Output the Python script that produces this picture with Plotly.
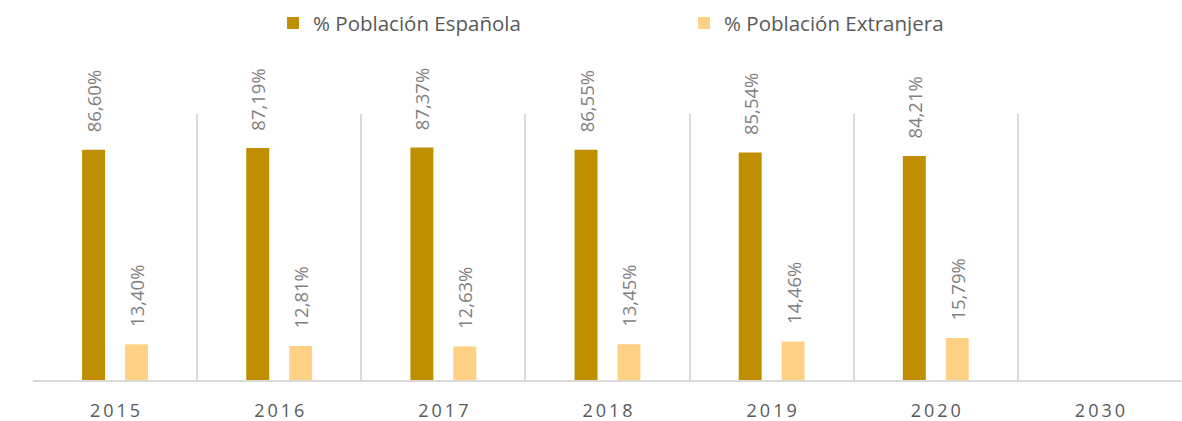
import plotly.graph_objects as go

years = ['2015', '2016', '2017', '2018', '2019', '2020', '2030']
year_labels = ['\u2009'.join(y) for y in years]
espanola = [86.60, 87.19, 87.37, 86.55, 85.54, 84.21, None]
extranjera = [13.40, 12.81, 12.63, 13.45, 14.46, 15.79, None]

COLOR_ES = '#BF8F00'
COLOR_EX = '#FFD185'
FONT = 'Open Sans'


def fmt(v):
    # leading no-break spaces keep the rotated label clear of the bar top
    return '' if v is None else '\u00a0\u00a0\u00a0' + f'{v:.2f}'.replace('.', ',') + '%'


fig = go.Figure()
for name, vals, col in (('% Población Española', espanola, COLOR_ES),
                        ('% Población Extranjera', extranjera, COLOR_EX)):
    fig.add_trace(go.Bar(
        x=years, y=vals, name=name,
        marker=dict(color=col, line=dict(width=0)),
        text=[fmt(v) for v in vals], textposition='outside', textangle=-90,
        constraintext='none', cliponaxis=False,
        outsidetextfont=dict(family=FONT, size=18.5, color='#7F7F7F'),
    ))

fig.update_layout(
    template='none',
    width=1182, height=421,
    margin=dict(l=33, r=0, t=114, b=41, autoexpand=False),
    paper_bgcolor='white', plot_bgcolor='white',
    barmode='group', bargap=0.477, bargroupgap=0.465,
    font=dict(family=FONT, color='#595959'),
    legend=dict(orientation='h', x=0.231, xref='container', xanchor='left',
                y=0.945, yref='container', yanchor='middle', entrywidth=366,
                font=dict(family=FONT, size=20.5, color='#595959'),
                itemwidth=30),
    showlegend=True,
)
fig.update_xaxes(
    type='category', tickvals=years, ticktext=year_labels,
    tickson='boundaries', showgrid=True, gridcolor='#D9D9D9', gridwidth=1.5,
    showline=True, linecolor='#D9D9D9', linewidth=2, ticks='',
    tickfont=dict(family=FONT, size=18, color='#595959'),
    ticklabelstandoff=13,
    range=[-0.5, 6.5], automargin=False, zeroline=False,
)
fig.update_yaxes(range=[0, 100], showticklabels=False, showgrid=False,
                 zeroline=False, showline=False, ticks='', automargin=False)

fig.write_html('out.html', config={'displayModeBar': False},
               post_script="document.body.style.margin='0';")
